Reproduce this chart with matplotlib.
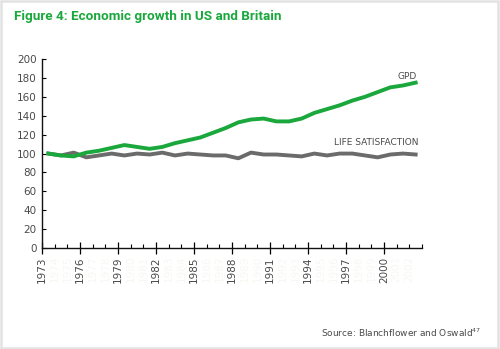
import matplotlib
matplotlib.use("Agg")
import matplotlib.pyplot as plt
from matplotlib.patches import Rectangle
from matplotlib.ticker import FixedLocator

years = list(range(1973, 2003))
gdp = [100, 98, 97, 101, 103, 106, 109, 107, 105, 107, 111, 114, 117, 122, 127, 133,
       136, 137, 134, 134, 137, 143, 147, 151, 156, 160, 165, 170, 172, 175]
life = [100, 98, 101, 96, 98, 100, 98, 100, 99, 101, 98, 100, 99, 98, 98, 95,
        101, 99, 99, 98, 97, 100, 98, 100, 100, 98, 96, 99, 100, 99]
major_years = [1973, 1976, 1979, 1982, 1985, 1988, 1991, 1994, 1997, 2000]
y_ticks = [0, 20, 40, 60, 80, 100, 120, 140, 160, 180, 200]

GREEN = "#1aa83c"
GRAY = "#6b6b6b"
TEXT = "#4a4a4a"

fig = plt.figure(figsize=(5.0, 3.49), dpi=100)
fig.patch.set_facecolor("white")
fig.patches.append(Rectangle((0.002, 0.003), 0.994, 0.994, transform=fig.transFigure,
                             fill=False, edgecolor="#e2e2e2", linewidth=1.8))

ax = fig.add_axes([0.084, 0.289, 0.76, 0.542])
xs = [y + 0.5 for y in years]
ax.plot(xs, life, color=GRAY, lw=2.8, solid_joinstyle="round", zorder=2)
ax.plot(xs, gdp, color=GREEN, lw=2.8, solid_joinstyle="round", zorder=3)

ax.set_xlim(1973, 2003)
ax.set_ylim(0, 200)
for s in ["top", "right"]:
    ax.spines[s].set_visible(False)
for s in ["left", "bottom"]:
    ax.spines[s].set_linewidth(1.0)
    ax.spines[s].set_color("#111111")

ax.set_yticks(y_ticks)
ax.tick_params(axis="y", direction="in", length=3, width=0.8, labelsize=7.5,
               labelcolor=TEXT, pad=4)
ax.xaxis.set_major_locator(FixedLocator(major_years))
ax.xaxis.set_minor_locator(FixedLocator([y for y in range(1973, 2004) if y not in major_years]))
ax.set_xticklabels([str(y) for y in major_years], rotation=90)
ax.tick_params(axis="x", which="major", direction="inout", length=8, width=0.9,
               labelsize=7.5, labelcolor=TEXT, pad=2)
ax.tick_params(axis="x", which="minor", direction="in", length=3, width=0.8)

# faint intermediate labels
for y in range(1974, 2003):
    if y in major_years:
        continue
    ax.text(y, -8, str(y), rotation=90, ha="center", va="top", fontsize=7.5,
            color="#f8f7f2", transform=ax.transData, clip_on=False)

ax.text(2002.6, 182, "GPD", ha="right", va="center", fontsize=6.5, color=TEXT)
ax.text(2002.7, 112, "LIFE SATISFACTION", ha="right", va="center", fontsize=6.5, color=TEXT)

fig.text(0.028, 0.953, "Figure 4: Economic growth in US and Britain", ha="left", va="center",
         fontsize=9.7, fontweight="bold", color=GREEN, family="Roboto", fontstretch="condensed")
fig.text(0.962, 0.046, "Source: Blanchflower and Oswald$^{47}$", ha="right", va="center",
         fontsize=6.5, color=TEXT)

fig.savefig("out.png", dpi=100)
